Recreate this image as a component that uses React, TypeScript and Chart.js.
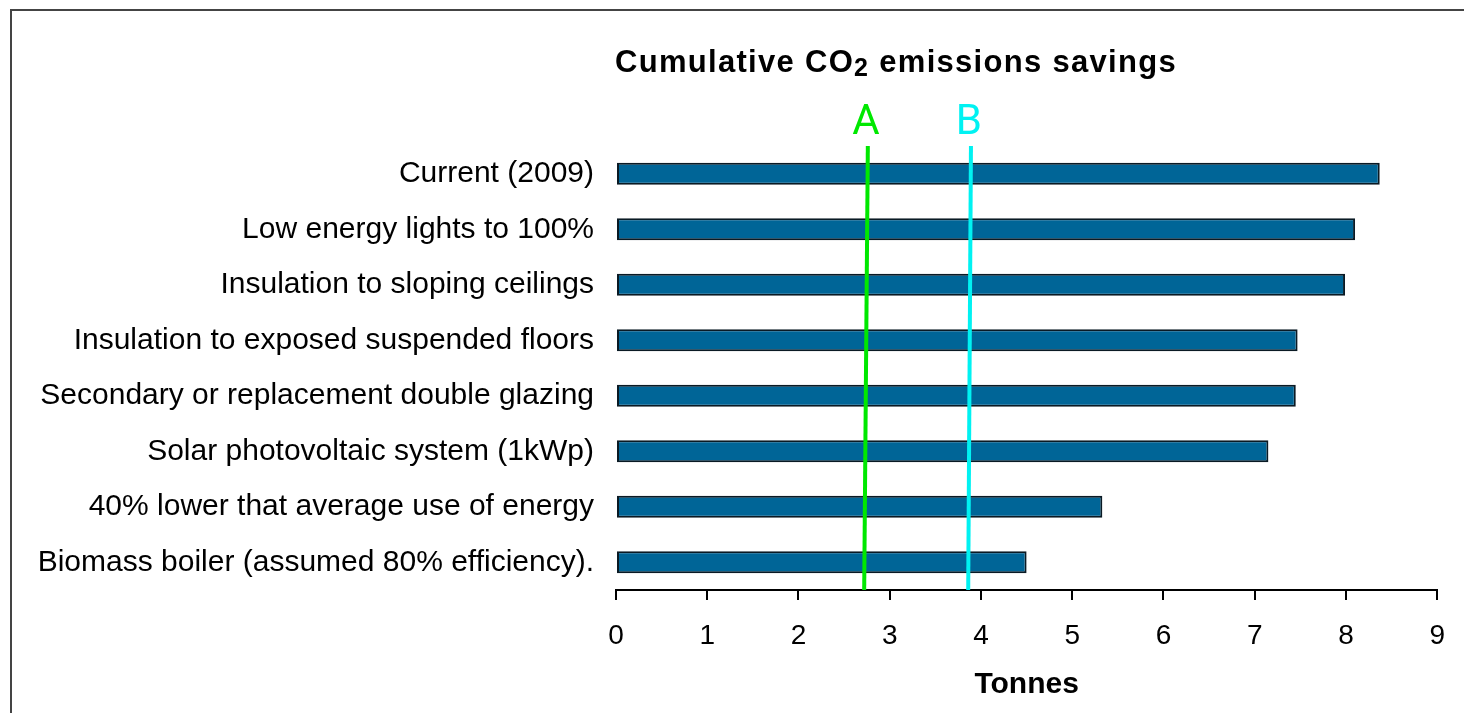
import React, { useEffect, useRef } from "react";
import { Chart, registerables } from "chart.js";

Chart.register(...registerables);

const TITLE_MAIN = "Cumulative CO";
const TITLE_SUB = "2";
const TITLE_END = " emissions savings";
const X_TITLE = "Tonnes";

const categories = [
  "Current (2009)",
  "Low energy lights to 100%",
  "Insulation to sloping ceilings",
  "Insulation to exposed suspended floors",
  "Secondary or replacement double glazing",
  "Solar photovoltaic system (1kWp)",
  "40% lower that average use of energy",
  "Biomass boiler (assumed 80% efficiency).",
];
const savings = [8.37, 8.1, 7.99, 7.47, 7.45, 7.15, 5.33, 4.5];

const markerLabels = ["A", "B"];
const markerTop = [2.76, 3.89];
const markerBottom = [2.72, 3.86];
const markerColors = ["#00e800", "#00f2f2"];

const X_MIN = 0;
const X_MAX = 9;
const X_STEP = 1;

const FONT = '"Liberation Sans", Arial, sans-serif';

const titlePlugin = {
  id: "customTitle",
  afterDraw(chart: any) {
    const ctx = chart.ctx;
    ctx.save();
    ctx.fillStyle = "#000";
    ctx.textBaseline = "alphabetic";
    ctx.textAlign = "left";
    try {
      ctx.letterSpacing = "1.3px";
    } catch (e) {}
    let x = chart.chartArea.left - 1;
    const y = 72;
    ctx.font = `bold 31px ${FONT}`;
    ctx.fillText(TITLE_MAIN, x, y);
    x += ctx.measureText(TITLE_MAIN).width;
    ctx.font = `bold 25px ${FONT}`;
    ctx.fillText(TITLE_SUB, x, y + 4);
    x += ctx.measureText(TITLE_SUB).width;
    ctx.font = `bold 31px ${FONT}`;
    ctx.fillText(TITLE_END, x, y);
    ctx.restore();
  },
};

const markerLabelPlugin = {
  id: "markerLabels",
  afterDatasetsDraw(chart: any) {
    const ctx = chart.ctx;
    const xs = chart.scales.x;
    ctx.save();
    ctx.textAlign = "center";
    ctx.textBaseline = "alphabetic";
    ctx.font = `42px Roboto, "Noto Sans", sans-serif`;
    chart.data.datasets.forEach((ds: any) => {
      if (ds.type !== "line") return;
      const px = xs.getPixelForValue(ds.data[0].x);
      ctx.fillStyle = ds.borderColor;
      ctx.fillText(ds.label, px - 2, 134);
    });
    ctx.restore();
  },
};

export default function App() {
  const canvasRef = useRef<HTMLCanvasElement | null>(null);

  useEffect(() => {
    if (!canvasRef.current) return;
    const lineSets = markerLabels.map((lab, i) => ({
      type: "line" as const,
      label: lab,
      data: [
        { x: markerTop[i], y: 1 },
        { x: markerBottom[i], y: 0 },
      ],
      xAxisID: "x",
      yAxisID: "yLine",
      borderColor: markerColors[i],
      borderWidth: 4,
      pointRadius: 0,
      fill: false,
      order: 0,
    }));
    const chart = new Chart(canvasRef.current, {
      type: "bar",
      data: {
        labels: categories,
        datasets: [
          ...lineSets,
          {
            type: "bar" as const,
            label: "Savings",
            data: savings,
            backgroundColor: "#006597",
            borderColor: "#0a1a24",
            borderWidth: 2,
            borderSkipped: false,
            barPercentage: 0.4,
            categoryPercentage: 1,
            grouped: false,
            xAxisID: "x",
            yAxisID: "y",
            order: 1,
          } as any,
        ],
      },
      options: {
        indexAxis: "y",
        responsive: false,
        animation: false,
        layout: { padding: { top: 146, right: 26, left: 0, bottom: 0 } },
        plugins: {
          legend: { display: false },
          tooltip: { enabled: false },
          title: { display: false },
        },
        scales: {
          x: {
            type: "linear",
            min: X_MIN,
            max: X_MAX,
            position: "bottom",
            ticks: {
              stepSize: X_STEP,
              color: "#000",
              font: { family: FONT, size: 28 },
              padding: 19,
            },
            grid: {
              drawOnChartArea: false,
              drawTicks: true,
              tickLength: 10,
              color: "#000",
              lineWidth: 2,
            },
            border: { display: true, color: "#000", width: 2 },
            title: {
              display: true,
              text: X_TITLE,
              color: "#000",
              font: { family: FONT, size: 30, weight: "bold" },
              padding: { top: 0, bottom: 10 },
            },
            afterFit(scale: any) {
              scale.height = 123;
            },
          },
          y: {
            type: "category",
            position: "left",
            ticks: {
              color: "#000",
              font: { family: FONT, size: 30 },
              padding: 22,
            },
            grid: { display: false, drawTicks: false },
            border: { display: false },
            afterFit(scale: any) {
              scale.width = 616;
            },
          },
          yLine: {
            type: "linear",
            min: 0,
            max: 1,
            offset: false,
            display: false,
          },
        },
      } as any,
      plugins: [titlePlugin, markerLabelPlugin],
    });
    return () => chart.destroy();
  }, []);

  return (
    <div
      style={{
        position: "fixed",
        left: 0,
        top: 0,
        width: 1464,
        height: 713,
        overflow: "hidden",
        background: "#fff",
      }}
    >
      <div
        style={{
          position: "absolute",
          left: 10,
          top: 9,
          width: 2000,
          height: 2000,
          border: "2px solid #444",
        }}
      />
      <canvas
        ref={canvasRef}
        width={1464}
        height={713}
        style={{ position: "absolute", left: 0, top: 0, width: 1464, height: 713 }}
      />
    </div>
  );
}
